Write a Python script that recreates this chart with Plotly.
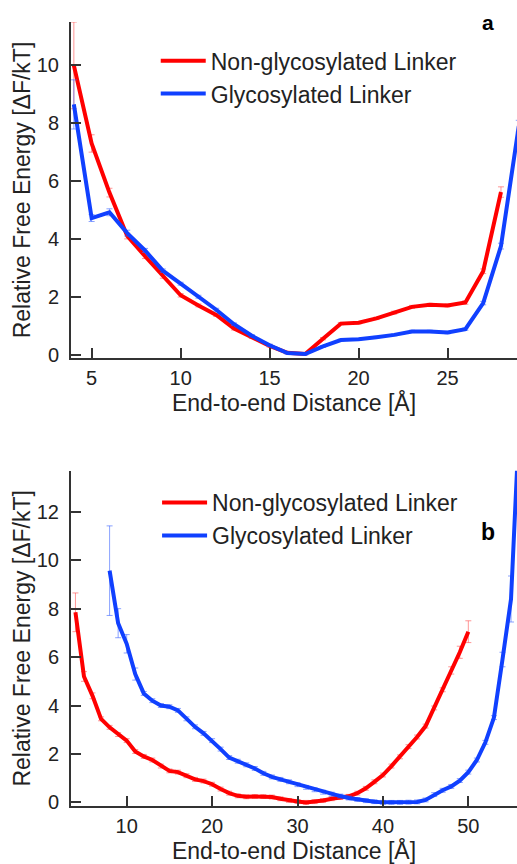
import plotly.graph_objects as go

# ---------------- Panel a data ----------------
a_red_x = list(range(4, 29))
a_red_y = [10.0, 7.3, 5.6, 4.1, 3.4, 2.7, 2.05, 1.7, 1.37, 0.9, 0.6, 0.3, 0.06, 0.02,
           0.55, 1.07, 1.1, 1.25, 1.45, 1.65, 1.72, 1.7, 1.8, 2.88, 5.62]
a_red_err = [1.5, 0.3, 0.15, 0.1, 0.08, 0.06, 0.06, 0.05, 0.05, 0.05, 0.04, 0.04, 0.03, 0.03,
             0.04, 0.04, 0.04, 0.04, 0.05, 0.05, 0.05, 0.05, 0.06, 0.08, 0.18]

a_blue_x = list(range(4, 30))
a_blue_y = [8.65, 4.72, 4.92, 4.2, 3.6, 2.9, 2.45, 2.0, 1.55, 1.05, 0.65, 0.32, 0.05, 0.02,
            0.28, 0.5, 0.53, 0.6, 0.68, 0.8, 0.8, 0.76, 0.88, 1.78, 3.75, 7.9]
a_blue_err = [0.85, 0.12, 0.12, 0.1, 0.07, 0.06, 0.05, 0.05, 0.05, 0.04, 0.04, 0.04, 0.03, 0.03,
              0.03, 0.03, 0.03, 0.03, 0.03, 0.04, 0.04, 0.04, 0.04, 0.06, 0.1, 0.2]

# ---------------- Panel b data ----------------
b_red_x = list(range(4, 51))
b_red_y = [7.85, 5.2, 4.4, 3.45, 3.1, 2.8, 2.55, 2.1, 1.9, 1.75, 1.5, 1.3, 1.25, 1.1, 0.95,
           0.88, 0.75, 0.55, 0.38, 0.27, 0.23, 0.24, 0.24, 0.22, 0.15, 0.08, 0.04, 0.0,
           0.03, 0.08, 0.15, 0.2, 0.25, 0.38, 0.58, 0.85, 1.13, 1.5, 1.88, 2.3, 2.7, 3.15,
           3.9, 4.65, 5.45, 6.2, 7.05]
b_red_err = [0.8, 0.2, 0.12] + [0.08] * 41 + [0.15, 0.25, 0.45]

b_blue_x = list(range(8, 57))
b_blue_y = [9.57, 7.4, 6.55, 5.3, 4.5, 4.2, 4.0, 3.95, 3.8, 3.45, 3.12, 2.85, 2.55, 2.2,
            1.85, 1.7, 1.55, 1.4, 1.2, 1.05, 0.95, 0.85, 0.73, 0.62, 0.52, 0.42, 0.34,
            0.26, 0.18, 0.12, 0.07, 0.03, 0.0, 0.0, 0.0, 0.01, 0.02, 0.1, 0.32, 0.5,
            0.66, 0.9, 1.25, 1.75, 2.48, 3.5, 5.9, 8.4, 16.0]
b_blue_err = [1.85, 0.6, 0.38, 0.25] + [0.08] * 42 + [0.3, 0.95, 1.5]

NAME_RED = "Non-glycosylated Linker"
NAME_BLUE = "Glycosylated Linker"
RED = "#ff0000"
BLUE = "#1040ff"
FONT = "Liberation Sans, Arial, sans-serif"

fig = go.Figure()


def add(x, y, err, name, color, ecolor, xa, ya, legend):
    fig.add_trace(go.Scatter(
        x=x, y=y, mode="lines", name=name, xaxis=xa, yaxis=ya,
        legend=legend, showlegend=True,
        line=dict(color=color, width=4),
        error_y=dict(type="data", array=err, visible=True, color=ecolor,
                     thickness=1, width=3),
    ))


add(a_red_x, a_red_y, a_red_err, NAME_RED, RED, "rgba(255,80,80,0.6)", "x", "y", "legend")
add(a_blue_x, a_blue_y, a_blue_err, NAME_BLUE, BLUE, "rgba(60,100,255,0.6)", "x", "y", "legend")
add(b_red_x, b_red_y, b_red_err, NAME_RED, RED, "rgba(255,80,80,0.6)", "x2", "y2", "legend2")
add(b_blue_x, b_blue_y, b_blue_err, NAME_BLUE, BLUE, "rgba(60,100,255,0.6)", "x2", "y2", "legend2")

axis_common = dict(
    showline=True, linecolor="#333333", linewidth=2,
    ticks="inside", ticklen=10, tickwidth=2, tickcolor="#333333",
    showgrid=False, zeroline=False, automargin=False,
    tickfont=dict(family=FONT, size=20, color="#222222"),
    title_font=dict(family=FONT, size=23, color="#222222"),
)
x_common = dict(ticklabelstandoff=1, **axis_common)
y_common = dict(ticklabelstandoff=6, **axis_common)

fig.update_layout(
    width=517, height=864,
    margin=dict(l=71, r=0, t=22, b=58),
    paper_bgcolor="white", plot_bgcolor="white",
    font=dict(family=FONT, color="#222222"),
    xaxis=dict(domain=[0, 1], anchor="y", range=[3.84, 28.9],
               tickvals=[5, 10, 15, 20, 25],
               title=dict(text="End-to-end Distance [Å]", standoff=4), **x_common),
    yaxis=dict(domain=[0.5714, 1], anchor="x", range=[-0.12, 11.5],
               tickvals=[0, 2, 4, 6, 8, 10],
               title=dict(text="Relative Free Energy [ΔF/kT]", standoff=0), **y_common),
    xaxis2=dict(domain=[0, 1], anchor="y2", range=[3.48, 55.7],
                tickvals=[10, 20, 30, 40, 50],
                title=dict(text="End-to-end Distance [Å]", standoff=8), **x_common),
    yaxis2=dict(domain=[0, 0.4277], anchor="x2", range=[-0.15, 13.7],
                tickvals=[0, 2, 4, 6, 8, 10, 12],
                title=dict(text="Relative Free Energy [ΔF/kT]", standoff=0), **y_common),
    legend=dict(x=0.19, y=0.978, xanchor="left", yanchor="top",
                bgcolor="rgba(0,0,0,0)", itemwidth=45,
                font=dict(family=FONT, size=23, color="#222222")),
    legend2=dict(x=0.193, y=0.4145, xanchor="left", yanchor="top",
                 bgcolor="rgba(0,0,0,0)", itemwidth=45,
                 font=dict(family=FONT, size=23, color="#222222")),
    annotations=[
        dict(text="<b>a</b>", xref="paper", yref="paper", x=0.935, y=1.0,
             xanchor="center", yanchor="middle", showarrow=False,
             font=dict(family=FONT, size=21, color="black")),
        dict(text="<b>b</b>", xref="paper", yref="paper", x=0.935, y=0.35,
             xanchor="center", yanchor="middle", showarrow=False,
             font=dict(family=FONT, size=23, color="black")),
    ],
)

fig.write_html(
    "out.html",
    config={"displayModeBar": False},
    post_script="document.body.style.margin='0';document.body.style.overflow='hidden';",
)
